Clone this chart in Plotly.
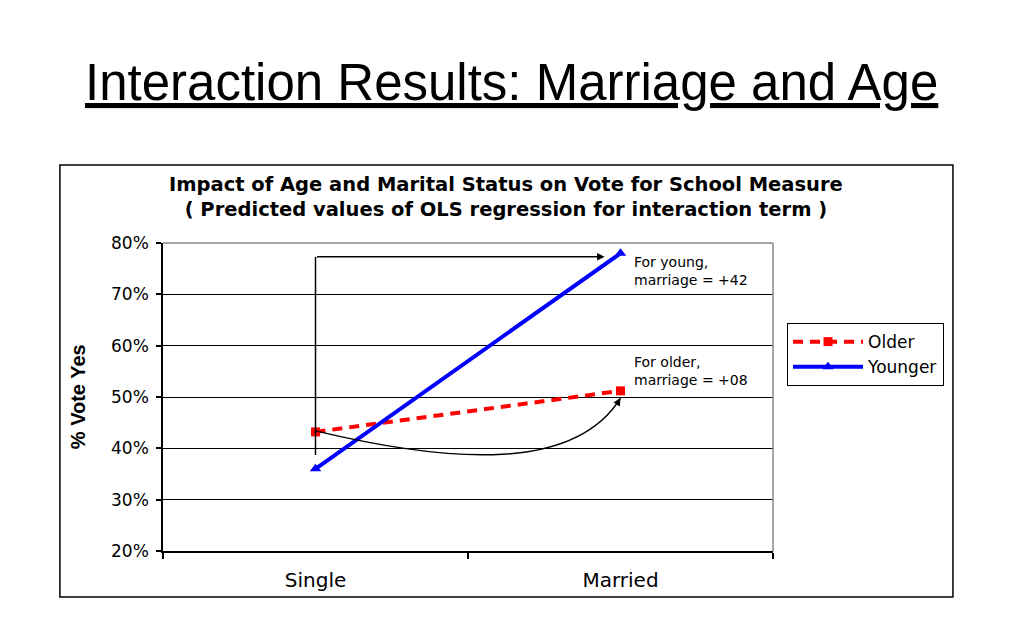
import plotly.graph_objects as go

categories = ["Single", "Married"]
older = [0.432, 0.512]
younger = [0.36, 0.78]
y_ticks = [0.2, 0.3, 0.4, 0.5, 0.6, 0.7, 0.8]
y_tick_labels = ["20%", "30%", "40%", "50%", "60%", "70%", "80%"]

xpos = list(range(len(categories)))
FONT = "Liberation Sans, Arial, sans-serif"
WIDE = "DejaVu Sans, Verdana, sans-serif"

fig = go.Figure()
fig.add_trace(go.Scatter(
    x=xpos, y=older, name="Older", mode="lines+markers",
    line=dict(color="#FF0000", width=4, dash="10px,7px"),
    marker=dict(symbol="square", size=9, color="#FF0000"),
))
fig.add_trace(go.Scatter(
    x=xpos, y=younger, name="Younger", mode="lines+markers",
    line=dict(color="#0000FF", width=4),
    marker=dict(symbol="triangle-up", size=10, color="#0000FF"),
))

shapes = []
# outer chart border
shapes.append(dict(type="rect", xref="paper", yref="paper",
                   x0=-0.169, x1=1.295, y0=-0.149, y1=1.253,
                   line=dict(color="black", width=1.5), layer="below"))
# plot-area grey border top / right
shapes.append(dict(type="line", xref="paper", yref="paper", x0=0, x1=1, y0=1, y1=1,
                   line=dict(color="#888888", width=1.5)))
shapes.append(dict(type="line", xref="paper", yref="paper", x0=1, x1=1, y0=0, y1=1,
                   line=dict(color="#888888", width=1.5)))
# elbow arrow vertical part
elbow_y = younger[1] - 0.007
shapes.append(dict(type="line", xref="x", yref="y", x0=0, x1=0, y0=0.387, y1=elbow_y,
                   line=dict(color="black", width=1.5)))
# curved arrow
p0 = (0, older[0] + 0.002)
p3 = (1, 0.498)
path = f"M {p0[0]},{p0[1]} C 0.45,0.37 0.85,0.355 {p3[0]},{p3[1]}"
shapes.append(dict(type="path", xref="x", yref="y", path=path,
                   line=dict(color="black", width=1.5)))

annotations = [
    dict(x=0.948, y=elbow_y, ax=0, ay=elbow_y, xref="x", yref="y", axref="x", ayref="y",
         text="", showarrow=True, arrowhead=2, arrowsize=1, arrowwidth=1.5, arrowcolor="black"),
    dict(x=p3[0], y=p3[1], ax=0.985, ay=0.483, xref="x", yref="y", axref="x", ayref="y",
         text="", showarrow=True, arrowhead=2, arrowsize=1, arrowwidth=1.5, arrowcolor="black"),
    dict(x=1.039, y=0.746, xref="x", yref="y", xanchor="left", yanchor="middle", align="left",
         text="For young,<br>marriage = +42", showarrow=False,
         font=dict(family=WIDE, size=14, color="black")),
    dict(x=1.039, y=0.551, xref="x", yref="y", xanchor="left", yanchor="middle", align="left",
         text="For older,<br>marriage = +08", showarrow=False,
         font=dict(family=WIDE, size=14, color="black")),
    dict(x=0.563, y=1.148, xref="paper", yref="paper", xanchor="center", yanchor="middle",
         text="<b>Impact of Age and Marital Status on Vote for School Measure<br>( Predicted values of OLS regression for interaction term )</b>",
         showarrow=False, font=dict(family=WIDE, size=19.5, color="black")),
    dict(x=-0.139, y=0.5, xref="paper", yref="paper", xanchor="center", yanchor="middle",
         text="<b>% Vote Yes</b>", textangle=-90, showarrow=False,
         font=dict(family=FONT, size=20, color="black")),
    dict(x=0.572, y=1.52, xref="paper", yref="paper", xanchor="center", yanchor="middle",
         text="<u>Interaction Results: Marriage and Age</u>", showarrow=False,
         font=dict(family=FONT, size=51, color="black")),
]

fig.update_layout(
    width=1024, height=640,
    margin=dict(l=155, r=259, t=235, b=97),
    paper_bgcolor="white", plot_bgcolor="white",
    showlegend=True,
    legend=dict(x=1.023, y=0.740, xanchor="left", yanchor="top",
                bordercolor="black", borderwidth=1, bgcolor="white",
                font=dict(family=WIDE, size=17, color="black"),
                itemwidth=70, tracegroupgap=0),
    shapes=shapes, annotations=annotations,
    xaxis=dict(range=[-0.5, 1.5], tickvals=xpos, ticktext=categories, ticks="",
               showgrid=False, zeroline=False, showline=True, linecolor="black", linewidth=1.5,
               tickfont=dict(family=WIDE, size=20, color="black"),
               ticklabelstandoff=10,
               minor=dict(tickvals=[-0.5, 0.5, 1.5], ticks="outside", ticklen=6,
                          tickcolor="black", tickwidth=1.5, showgrid=False),
               fixedrange=True),
    yaxis=dict(range=[0.2, 0.8], tickvals=y_ticks, ticktext=y_tick_labels,
               ticks="outside", ticklen=5, tickcolor="black", tickwidth=1.5,
               ticklabelstandoff=4,
               showgrid=True, gridcolor="black", gridwidth=1,
               zeroline=False, showline=True, linecolor="black", linewidth=1.5,
               tickfont=dict(family=WIDE, size=17, color="black"),
               fixedrange=True),
)

fig.write_html("out.html")
